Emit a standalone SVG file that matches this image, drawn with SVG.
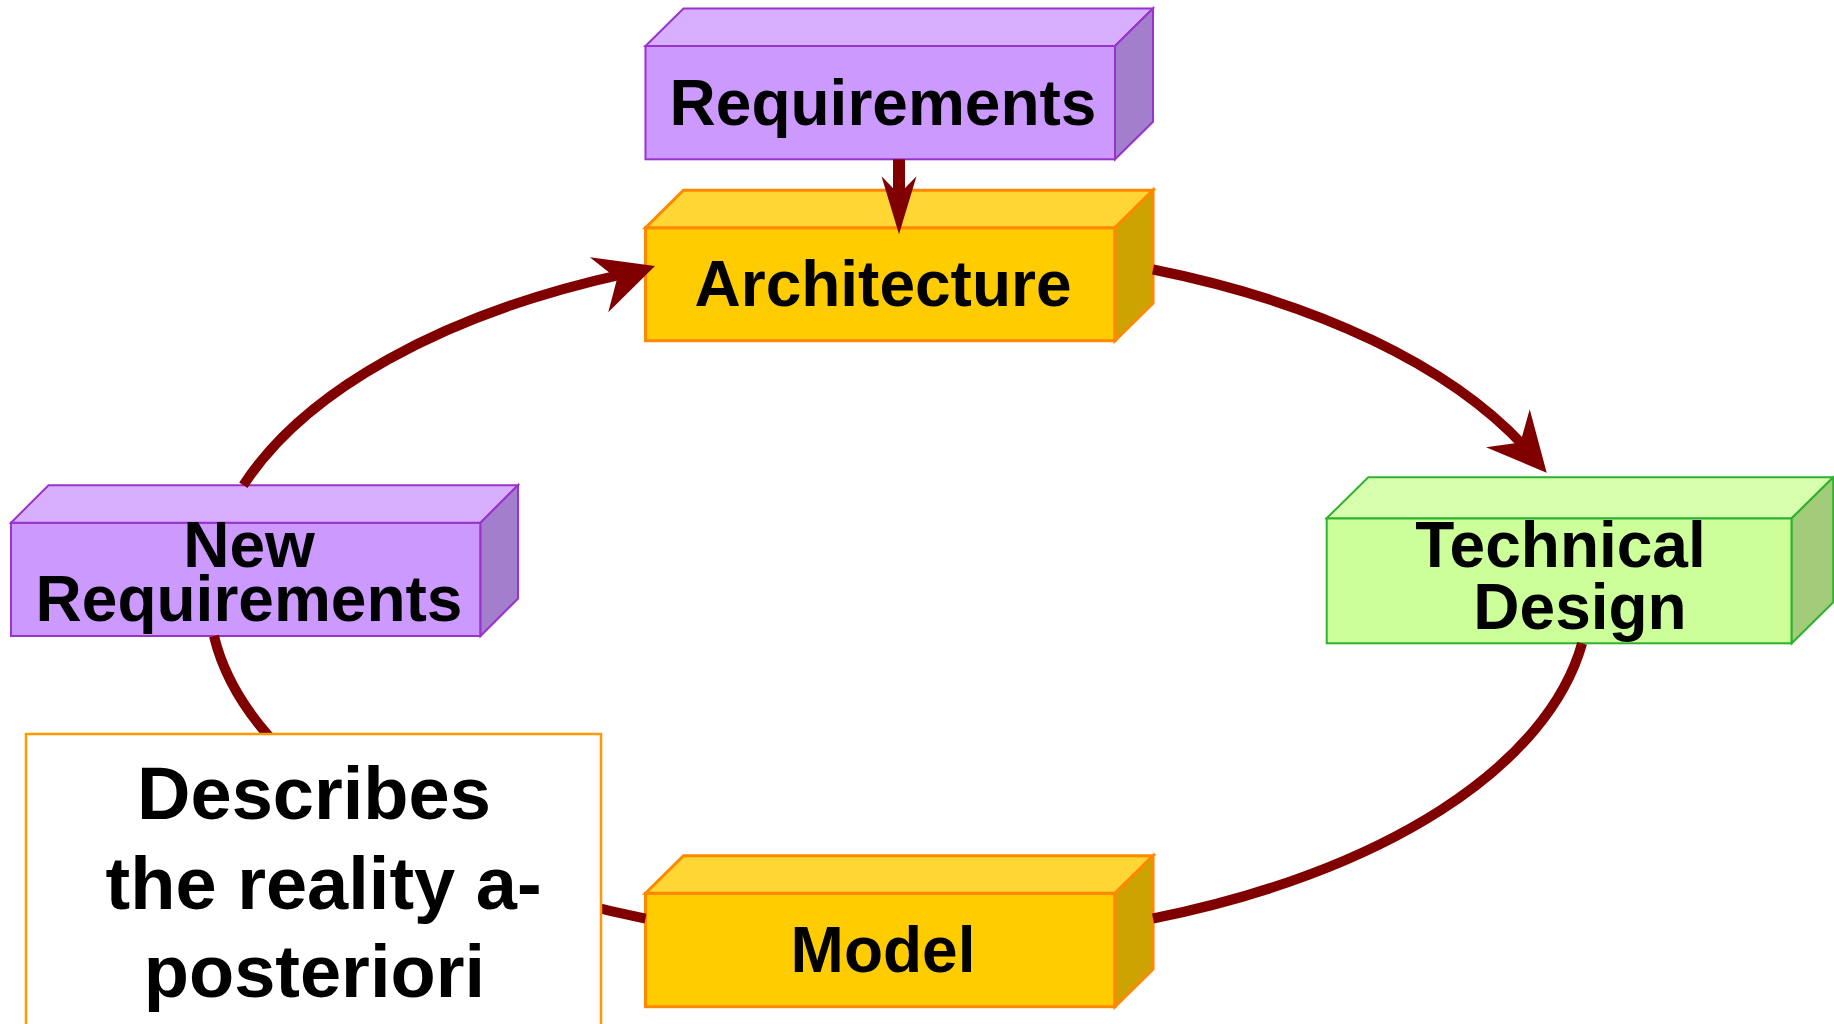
<svg xmlns="http://www.w3.org/2000/svg" xmlns:xlink="http://www.w3.org/1999/xlink" width="1834" height="1024" viewBox="0 0 1834 1024">
<style>
  text{font-family:"Liberation Sans",Arial,Helvetica,sans-serif;font-weight:bold;font-size:64px;text-anchor:middle;fill:#000}
  .purple rect,.purple polygon{stroke:#9933CC;stroke-width:2;stroke-linejoin:miter}
  .purple .front{fill:#CC99FF}.purple .top{fill:#D8AEFF}.purple .side{fill:#A37ECC}
  .orange rect,.orange polygon{stroke:#FF8800;stroke-width:3;stroke-linejoin:miter}
  .orange .front{fill:#FFCC00}.orange .top{fill:#FFD633}.orange .side{fill:#CCA300}
  .green rect,.green polygon{stroke:#2DB22D;stroke-width:2;stroke-linejoin:miter}
  .green .front{fill:#CCFF99}.green .top{fill:#D7FFAD}.green .side{fill:#A3CC7A}
  .edge{fill:none;stroke:#800000;stroke-width:10}
  .note rect{fill:#FFFFFF;stroke:#FF9900;stroke-width:2.5}
  .note text{font-size:74px}
</style>
<defs>
  <path id="ah" d="M0,0 L-59,-29 L-40,0 L-59,29 Z" fill="#800000"/>
  <path id="ahn" d="M0,0 L-58,-17.5 L-40,0 L-58,17.5 Z" fill="#800000"/>
</defs>

<g id="nodes">
  <g id="requirements" class="purple">
    <rect class="front" x="645.5" y="46" width="469.5" height="113.3"/>
    <polygon class="top" points="645.5,46 683.5,8.5 1153,8.5 1115,46"/>
    <polygon class="side" points="1115,46 1153,8.5 1153,121.8 1115,159.3"/>
    <text x="883" y="124.5">Requirements</text>
  </g>
  <g id="architecture" class="orange">
    <rect class="front" x="645.5" y="227.7" width="469.5" height="113"/>
    <polygon class="top" points="645.5,227.7 683.5,190.2 1153,190.2 1115,227.7"/>
    <polygon class="side" points="1115,227.7 1153,190.2 1153,303.2 1115,340.7"/>
    <text x="883" y="305.5">Architecture</text>
  </g>
  <g id="technical-design" class="green">
    <rect class="front" x="1326.7" y="518.3" width="465" height="125"/>
    <polygon class="top" points="1326.7,518.3 1368.3,477.3 1833.3,477.3 1791.7,518.3"/>
    <polygon class="side" points="1791.7,518.3 1833.3,477.3 1833.3,602.3 1791.7,643.3"/>
    <text x="1560.5" y="566.7">Technical</text>
    <text x="1580" y="629.3">Design</text>
  </g>
  <g id="model" class="orange">
    <rect class="front" x="645.5" y="893.3" width="469.5" height="113.4"/>
    <polygon class="top" points="645.5,893.3 683.5,855.8 1153,855.8 1115,893.3"/>
    <polygon class="side" points="1115,893.3 1153,855.8 1153,969.2 1115,1006.7"/>
    <text x="883" y="971.5">Model</text>
  </g>
  <g id="new-requirements" class="purple">
    <rect class="front" x="11" y="522.7" width="469.5" height="113.3"/>
    <polygon class="top" points="11,522.7 48.5,485.2 518,485.2 480.5,522.7"/>
    <polygon class="side" points="480.5,522.7 518,485.2 518,598.5 480.5,636"/>
    <text x="249" y="566.5">New</text>
    <text x="249" y="620.5">Requirements</text>
  </g>
</g>

<g id="connectors">
  <path class="edge" d="M243.4,485.2 A690,349 0 0 1 622,274.3"/>
  <use xlink:href="#ah" href="#ah" transform="translate(655,266) rotate(-18.5)"/>
  <path class="edge" d="M1153,269.5 A690,349 0 0 1 1525,447.2"/>
  <use xlink:href="#ah" href="#ah" transform="translate(1546.7,472.7) rotate(48.85)"/>
  <path class="edge" d="M1582.1,643.3 A690,349 0 0 1 1153,918.5"/>
  <path class="edge" d="M645.5,918.6 A690,349 0 0 1 214,636"/>
  <line x1="899" y1="159.3" x2="899" y2="196" stroke="#800000" stroke-width="12"/>
  <use xlink:href="#ahn" href="#ahn" transform="translate(899,234.3) rotate(90)"/>
</g>

<g id="note" class="note">
  <rect x="26" y="734" width="575" height="330"/>
  <text x="314" y="819">Describes</text>
  <text x="323.6" y="908.5">the reality a-</text>
  <text x="314.4" y="997">posteriori</text>
</g>
</svg>
